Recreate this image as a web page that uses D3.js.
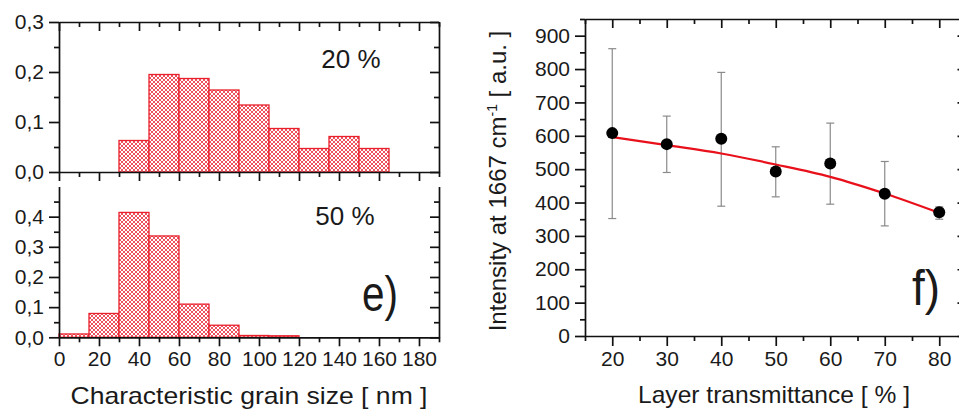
<!DOCTYPE html>
<html><head><meta charset="utf-8">
<script src="https://cdn.jsdelivr.net/npm/d3@7"></script>
<style>
body{margin:0;background:#fff;}
svg text{font-family:"Liberation Sans",Arial,sans-serif;fill:#1a1a1a;}
</style></head>
<body><svg id="c" width="959" height="412"></svg>
<script>
// ---------- data ----------
const binWidth = 15;
const bins20Start = [30,45,60,75,90,105,120,135,150];
const bins20Value = [0.063,0.195,0.187,0.164,0.134,0.087,0.047,0.071,0.047];
const bins50Start = [0,15,30,45,60,75,90,105];
const bins50Value = [0.011,0.079,0.414,0.336,0.110,0.040,0.006,0.005];
const grainTicks = [0,20,40,60,80,100,120,140,160,180];
const top20Ticks = [0,0.1,0.2,0.3];
const bot50Ticks = [0,0.1,0.2,0.3,0.4];

const transmittance = [20,30,40,50,60,70,80];
const intensity     = [608,575,591,493,517,426,371];
const errHigh       = [861,659,790,567,638,523,387];
const errLow        = [352,490,389,417,395,330,350];
const fitValues     = [596,572,547,514,477,427,369];
const transTicks = [20,30,40,50,60,70,80];
const intTicks = [0,100,200,300,400,500,600,700,800,900];

// ---------- setup ----------
const svg = d3.select("#c");
const defs = svg.append("defs");
const pat = defs.append("pattern").attr("id","hatch").attr("width",4).attr("height",4)
  .attr("patternUnits","userSpaceOnUse");
pat.append("rect").attr("width",4).attr("height",4).attr("fill","#fff");
pat.append("path").attr("d","M0,0L4,4M4,0L0,4M-1,3L1,5M3,-1L5,1M-1,1L1,-1M3,5L5,3")
  .attr("stroke","#ec4a55").attr("stroke-width",0.95);

const fmt = d3.format(".1f");
const comma = v => fmt(v).replace(".",",");
const lw = 1.7;

function ax(g, axisFn, scale, major, minor, majLen, minLen, labels, fs){
  const a = axisFn(scale).tickValues(major).tickSizeInner(majLen).tickSizeOuter(0).tickPadding(5);
  if(labels) a.tickFormat(labels); else a.tickFormat("");
  g.call(a);
  if(minor){
    const m = g.append("g").call(axisFn(scale).tickValues(minor).tickSizeInner(minLen).tickSizeOuter(0).tickFormat(""));
    m.select(".domain").remove();
  }
  g.selectAll("line").attr("stroke","#111").attr("stroke-width",lw);
  g.selectAll(".domain").attr("stroke","#111").attr("stroke-width",lw);
  g.selectAll("text").style("font-size",(fs||21)+"px").attr("fill","#1a1a1a");
  return g;
}
const range = (a,b,s)=>d3.range(a,b+1e-9,s);

// ---------- left panels ----------
const xL = d3.scaleLinear().domain([0,190]).range([59,439]);
const yT = d3.scaleLinear().domain([0,0.3]).range([172,22]);
const yB = d3.scaleLinear().domain([0,0.5]).range([337.3,186.5]);

const majX = range(0,180,20), minX = range(10,190,20);

// top histogram
const gT = svg.append("g");
gT.selectAll("rect").data(bins20Start).join("rect")
  .attr("x",d=>xL(d)).attr("width",(d)=>xL(d+binWidth)-xL(d))
  .attr("y",(d,i)=>yT(bins20Value[i])).attr("height",(d,i)=>yT(0)-yT(bins20Value[i]))
  .attr("fill","url(#hatch)").attr("stroke","#e8202c").attr("stroke-width",1.3);
ax(svg.append("g").attr("transform",`translate(0,${yT(0)})`), d3.axisBottom, xL, majX, minX, 9, 5, null);
ax(svg.append("g").attr("transform",`translate(0,${yT(0.3)})`), d3.axisTop, xL, majX, minX, -9, -5, null);
ax(svg.append("g").attr("transform",`translate(${xL(0)},0)`), d3.axisLeft, yT, top20Ticks, range(0.05,0.25,0.1), 10, 5, comma);
ax(svg.append("g").attr("transform",`translate(${xL(190)},0)`), d3.axisRight, yT, top20Ticks, range(0.05,0.25,0.1), -9, -5, null);
svg.append("text").attr("x",351).attr("y",68).attr("text-anchor","middle").style("font-size","26px").text("20 %");

// bottom histogram
const gB = svg.append("g");
gB.selectAll("rect").data(bins50Start).join("rect")
  .attr("x",d=>xL(d)).attr("width",(d)=>xL(d+binWidth)-xL(d))
  .attr("y",(d,i)=>yB(bins50Value[i])).attr("height",(d,i)=>yB(0)-yB(bins50Value[i]))
  .attr("fill","url(#hatch)").attr("stroke","#e8202c").attr("stroke-width",1.3);
ax(svg.append("g").attr("transform",`translate(0,${yB(0)})`), d3.axisBottom, xL, grainTicks, minX, 9, 5, d=>d);
ax(svg.append("g").attr("transform",`translate(${xL(0)},0)`), d3.axisLeft, yB, bot50Ticks, range(0.05,0.45,0.1), 10, 5, comma);
ax(svg.append("g").attr("transform",`translate(${xL(190)},0)`), d3.axisRight, yB, bot50Ticks, range(0.05,0.45,0.1), -9, -5, null);
svg.append("text").attr("x",345).attr("y",225).attr("text-anchor","middle").style("font-size","26px").text("50 %");
svg.append("text").attr("x",362).attr("y",311).attr("textLength",36).attr("lengthAdjust","spacingAndGlyphs").style("font-size","50px").text("e)");
svg.append("text").attr("x",249).attr("y",404).attr("text-anchor","middle").style("font-size","24px")
  .attr("textLength",357).attr("lengthAdjust","spacingAndGlyphs")
  .text("Characteristic grain size [ nm ]");

// ---------- right panel ----------
const xR = d3.scaleLinear().domain([15,85]).range([585,966.5]);
const yR = d3.scaleLinear().domain([0,950]).range([336,19]);
const majR = transTicks, minR = range(15,85,10);
const majY = intTicks, minY = range(50,950,100);

ax(svg.append("g").attr("transform",`translate(0,${yR(0)})`), d3.axisBottom, xR, majR, minR, 10, 5, d=>d);
ax(svg.append("g").attr("transform",`translate(0,${yR(950)})`), d3.axisTop, xR, majR, minR, -9, -5, null);
ax(svg.append("g").attr("transform",`translate(${xR(15)},0)`), d3.axisLeft, yR, majY, minY, 10, 5, d=>d);
ax(svg.append("g").attr("transform",`translate(${xR(85)},0)`), d3.axisRight, yR, majY, minY, -9, -5, null);

// error bars
const eg = svg.append("g").attr("stroke","#8a8a8a").attr("stroke-width",1.2);
transmittance.forEach((t,i)=>{
  eg.append("line").attr("x1",xR(t)).attr("x2",xR(t)).attr("y1",yR(errHigh[i])).attr("y2",yR(errLow[i]));
  [errHigh[i],errLow[i]].forEach(v=>eg.append("line").attr("x1",xR(t)-4).attr("x2",xR(t)+4).attr("y1",yR(v)).attr("y2",yR(v)));
});
// fit
svg.append("path").datum(transmittance)
  .attr("d",d3.line().x(d=>xR(d)).y((d,i)=>yR(fitValues[i])).curve(d3.curveMonotoneX))
  .attr("fill","none").attr("stroke","#e8101a").attr("stroke-width",2.2);
// points
svg.append("g").selectAll("circle").data(transmittance).join("circle")
  .attr("cx",d=>xR(d)).attr("cy",(d,i)=>yR(intensity[i])).attr("r",6).attr("fill","#000");

svg.append("text").attr("x",912).attr("y",305).attr("textLength",28).attr("lengthAdjust","spacingAndGlyphs").style("font-size","50px").text("f)");
svg.append("text").attr("x",774).attr("y",403).attr("text-anchor","middle").style("font-size","24px")
  .attr("textLength",272).attr("lengthAdjust","spacingAndGlyphs")
  .text("Layer transmittance [ % ]");
const yt = svg.append("text").attr("transform","translate(506,181) rotate(-90)").attr("text-anchor","middle").style("font-size","24px");
yt.append("tspan").text("Intensity at 1667 cm");
yt.append("tspan").attr("dy",-9).style("font-size","14px").text("-1");
yt.append("tspan").attr("dy",9).text(" [ a.u. ]");
</script></body></html>
